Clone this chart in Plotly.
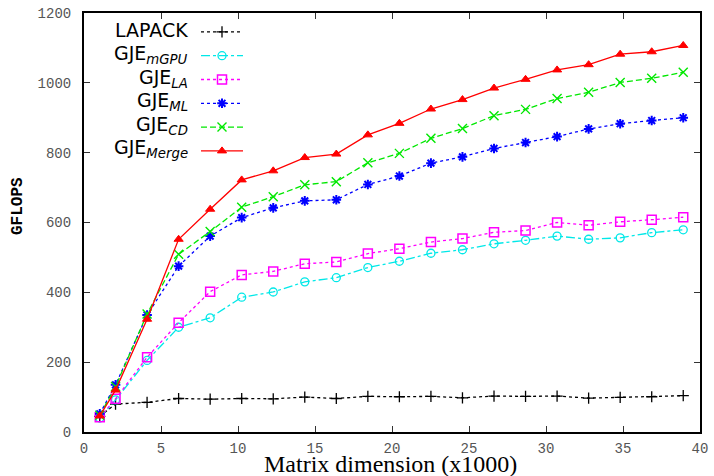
import plotly.graph_objects as go

# Matrix dimension (x1000)
matrix_dim = [1.024, 2.048, 4.096, 6.144, 8.192, 10.24, 12.288, 14.336, 16.384, 18.432,
              20.48, 22.528, 24.576, 26.624, 28.672, 30.72, 32.768, 34.816, 36.864, 38.912]

lapack = [45, 80, 85, 96, 94, 96, 95, 100, 96, 102, 101, 102, 98, 103, 102, 103, 97, 99, 101, 104]
gje_mgpu = [40, 92, 205, 300, 327, 386, 401, 430, 442, 471, 489, 512, 522, 539, 549, 561, 552, 556, 571, 579]
gje_la = [42, 95, 214, 313, 402, 450, 460, 482, 487, 511, 525, 544, 554, 572, 577, 600, 592, 602, 608, 615]
gje_ml = [52, 135, 335, 475, 561, 614, 642, 662, 665, 709, 733, 770, 788, 812, 829, 846, 868, 883, 892, 900]
gje_cd = [48, 130, 338, 509, 574, 644, 674, 708, 717, 771, 798, 841, 869, 906, 924, 955, 973, 1001, 1013, 1030]
gje_merge = [46, 120, 323, 552, 638, 722, 748, 786, 796, 851, 884, 925, 952, 985, 1010, 1037, 1052, 1082, 1089, 1107]

labels = ["LAPACK", "GJE<sub><i>mGPU</i></sub>", "GJE<sub><i>LA</i></sub>",
          "GJE<sub><i>ML</i></sub>", "GJE<sub><i>CD</i></sub>", "GJE<sub><i>Merge</i></sub>"]
series = [lapack, gje_mgpu, gje_la, gje_ml, gje_cd, gje_merge]

styles = [
    dict(color="black", dash="dot", symbol="cross-thin-open", size=8, mlw=1.3),
    dict(color="#00e8e8", dash="dashdot", symbol="circle-open", size=8, mlw=1.3),
    dict(color="#ff00ff", dash="dot", symbol="square-open", size=9, mlw=1.5),
    dict(color="#0000ff", dash="3px,3px", symbol="asterisk-open", size=8, mlw=2),
    dict(color="#00e800", dash="6px,3px", symbol="x-thin-open", size=9, mlw=1.4),
    dict(color="#ff0000", dash="solid", symbol="triangle-up", size=8, mlw=1),
]

MONO = "Liberation Mono, DejaVu Sans Mono, Courier New, monospace"

fig = go.Figure()
for name, ys, st in zip(labels, series, styles):
    plain = name.replace("<sub>", "").replace("</sub>", "").replace("<i>", "").replace("</i>", "")
    fig.add_trace(go.Scatter(
        x=matrix_dim, y=ys, mode="lines+markers", name=" ",
        line=dict(color=st["color"], dash=st["dash"], width=1.3),
        marker=dict(symbol=st["symbol"], size=st["size"], color=st["color"],
                    line=dict(color=st["color"], width=st["mlw"])),
        hovertemplate=plain + ": %{y}<extra></extra>",
    ))

plot_top, plot_bottom, plot_left, plot_right = 13, 432, 84, 700
W = plot_right - plot_left
H = plot_bottom - plot_top

# legend text (right aligned, gnuplot style)
row_px = [30, 54, 78, 102, 125, 148]
for lab, py in zip(labels, row_px):
    fig.add_annotation(
        text=lab, xref="paper", yref="paper",
        x=(190 - plot_left) / W, y=(plot_bottom - py) / H,
        xanchor="right", yanchor="middle", showarrow=False,
        font=dict(family="DejaVu Sans", size=19, color="black"),
    )

fig.add_annotation(
    text="<b>GFLOPS</b>", xref="paper", yref="paper",
    x=(18 - plot_left) / W, y=(plot_bottom - 206) / H,
    textangle=-90, showarrow=False, xanchor="center", yanchor="middle",
    font=dict(family=MONO, size=16, color="black"),
)
fig.add_annotation(
    text="Matrix dimension (x1000)", xref="paper", yref="paper",
    x=(390 - plot_left) / W, y=(plot_bottom - 464) / H,
    showarrow=False, xanchor="center", yanchor="middle",
    font=dict(family="Liberation Serif", size=24, color="black"),
)

axis_common = dict(
    showgrid=False, zeroline=False, showline=True, linecolor="black", linewidth=2,
    mirror="ticks", ticks="inside", ticklen=6, tickcolor="#333", tickwidth=1.2,
    tickfont=dict(family=MONO, size=14, color="#555"), automargin=False,
)

fig.update_layout(
    width=714, height=476,
    margin=dict(l=plot_left, r=714 - plot_right, t=plot_top, b=476 - plot_bottom),
    paper_bgcolor="white", plot_bgcolor="white",
    showlegend=True,
    legend=dict(x=(196 - plot_left) / W, xanchor="left",
                y=(plot_bottom - 15) / H, yanchor="top",
                bgcolor="rgba(0,0,0,0)", font=dict(size=16), itemwidth=42,
                tracegroupgap=0),
    xaxis=dict(range=[0, 40], dtick=5, ticklabelstandoff=2, **axis_common),
    yaxis=dict(range=[0, 1200], dtick=200, ticklabelstandoff=8, **axis_common),
)

fig.write_html("out.html", config={"displayModeBar": False},
               post_script="document.body.style.margin='0';document.body.style.overflow='hidden';")
